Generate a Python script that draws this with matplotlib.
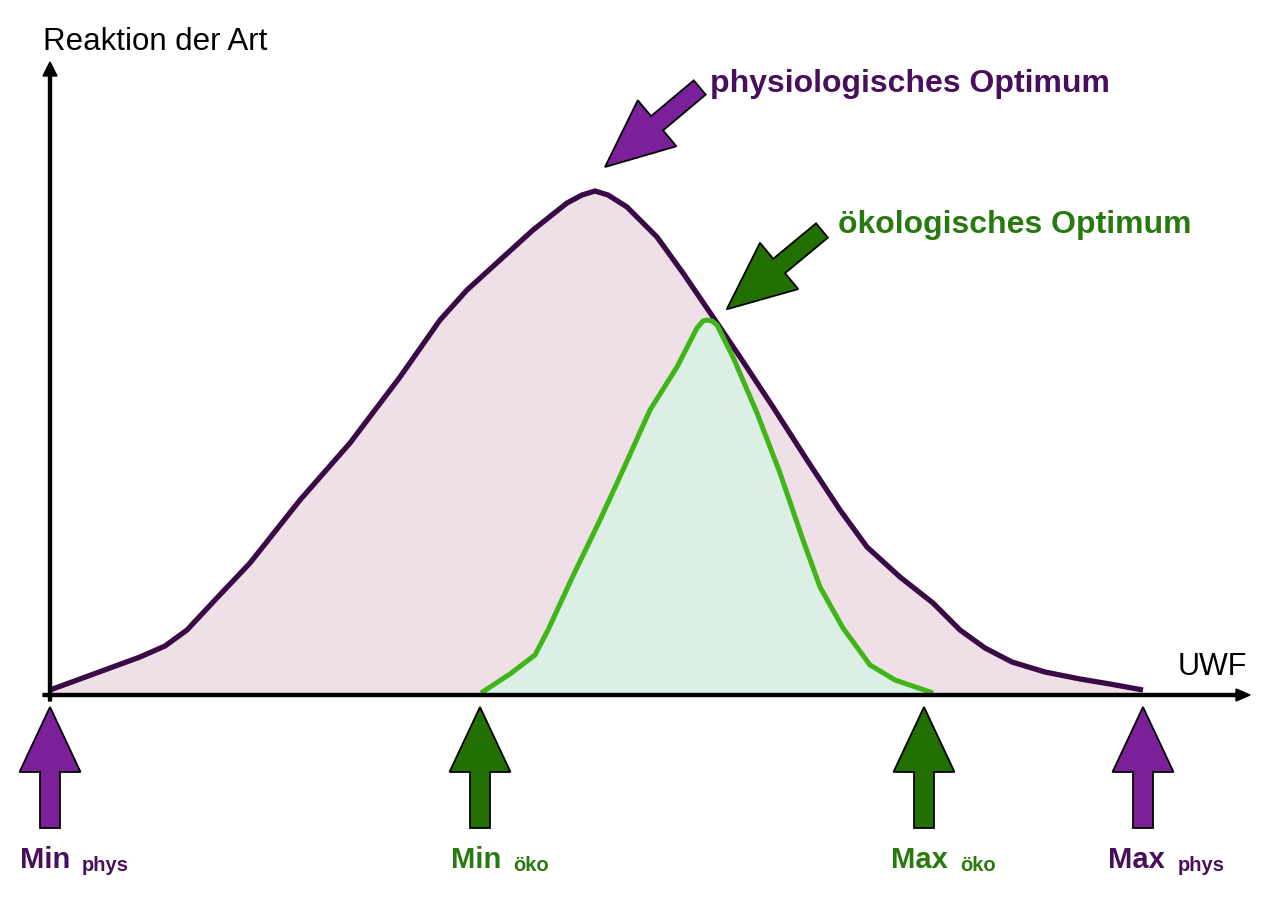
import matplotlib
matplotlib.use("Agg")
import matplotlib.pyplot as plt
from matplotlib import font_manager

# Kurven (x = UWF, y = Reaktion)
phys_x = [0, 30, 60, 90, 115, 137, 165, 200, 250, 300, 350, 390, 417, 450,
          483, 517, 532, 545, 558, 577, 607, 633, 663, 690, 723, 757, 790,
          817, 850, 883, 910, 935, 962, 995, 1030, 1060, 1093]
phys_y = [5, 16, 27, 38, 49, 65, 95, 132, 195, 252, 318, 375, 405, 435,
          465, 492, 500, 504, 500, 488, 458, 422, 378, 338, 288, 235, 185,
          148, 118, 92, 65, 47, 33, 23, 16, 11, 5]

oeko_x = [431, 460, 485, 498, 522, 550, 573, 600, 627, 647, 653, 657, 662,
          667, 683, 707, 730, 753, 770, 793, 820, 845, 883]
oeko_y = [2, 21, 40, 65, 117, 175, 225, 285, 328, 367, 374, 375, 374,
          370, 338, 282, 222, 155, 108, 67, 30, 15, 2]

# Grenzen (Min/Max) auf der UWF-Achse
grenz_x = [0, 430, 874, 1093]
grenz_haupt = ["Min", "Min", "Max", "Max"]
grenz_sub = ["phys", "öko", "öko", "phys"]
grenz_art = ["phys", "oeko", "oeko", "phys"]

# Optima
opt_text = ["physiologisches Optimum", "ökologisches Optimum"]
opt_art = ["phys", "oeko"]

# Farben
LILA_LINIE = "#3a0a47"
LILA_FLAECHE = "#efdfe6"
LILA_PFEIL = "#7b2099"
LILA_TEXT = "#4a0f5c"
GRUEN_LINIE = "#40b518"
GRUEN_FLAECHE = "#dcefe5"
GRUEN_PFEIL = "#217000"
GRUEN_TEXT = "#28790f"

pfeil_farbe = {"phys": LILA_PFEIL, "oeko": GRUEN_PFEIL}
text_farbe = {"phys": LILA_TEXT, "oeko": GRUEN_TEXT}

# Schmale fette Schrift, falls vorhanden
namen = {f.name for f in font_manager.fontManager.ttflist}
if "Liberation Sans Narrow" in namen:
    FETT = "Liberation Sans Narrow"
    f_opt, f_haupt, f_sub = 28, 25, 17
else:
    FETT = "Liberation Sans"
    f_opt, f_haupt, f_sub = 23, 21, 14.5

fig = plt.figure(figsize=(12.8, 9.01), dpi=100)
ax = fig.add_axes([0, 0, 1, 1])
ax.set_xlim(-50, 1230)
ax.set_ylim(-206, 695)
ax.axis("off")

# Flaechen und Kurven
ax.fill_between(phys_x, phys_y, 0, color=LILA_FLAECHE, lw=0, zorder=1)
ax.fill_between(oeko_x, oeko_y, 0, color=GRUEN_FLAECHE, lw=0, zorder=2)
ax.plot(phys_x, phys_y, color=LILA_LINIE, lw=3.8, solid_joinstyle="round",
        solid_capstyle="butt", zorder=4)
ax.plot(oeko_x, oeko_y, color=GRUEN_LINIE, lw=3.6, solid_joinstyle="round",
        solid_capstyle="butt", zorder=5)

# Achsen
ax.arrow(-7, 0, 1207, 0, width=3, head_width=12, head_length=14,
         length_includes_head=True, color="black", zorder=6)
ax.arrow(0, -6, 0, 639, width=3, head_width=14, head_length=14,
         length_includes_head=True, color="black", zorder=6)
ax.text(-7, 645, "Reaktion der Art", fontsize=22.5, family="Liberation Sans",
        va="baseline", ha="left")
ax.text(1128, 20, "UWF", fontsize=22, family="Liberation Sans",
        va="baseline", ha="left")

# Pfeile unter der Achse
for x, art in zip(grenz_x, grenz_art):
    ax.arrow(x, -133, 0, 121, width=20, head_width=61, head_length=65,
             length_includes_head=True, fc=pfeil_farbe[art], ec="black",
             lw=1.3, zorder=6)

haupt_links = [-30, 401, 841, 1058]
sub_links = [32, 463, 910, 1128]
for i in range(len(grenz_x)):
    farbe = text_farbe[grenz_art[i]]
    ax.text(haupt_links[i], -173, grenz_haupt[i], fontsize=f_haupt,
            family=FETT, weight="bold", color=farbe, va="baseline")
    ax.text(sub_links[i], -176, grenz_sub[i], fontsize=f_sub,
            family=FETT, weight="bold", color=farbe, va="baseline")

# Pfeile zu den Optima
pfeil_start = [(649.7, 607.5), (772, 464.5)]
pfeil_d = [(-94.7, -79.5), (-95.3, -78.8)]
text_pos = [(660, 603), (788, 462)]
for (sx, sy), (dx, dy), (tx, ty), t, art in zip(pfeil_start, pfeil_d,
                                                text_pos, opt_text, opt_art):
    ax.arrow(sx, sy, dx, dy, width=18.6, head_width=60, head_length=68,
             length_includes_head=True, fc=pfeil_farbe[art], ec="black",
             lw=1.3, zorder=6)
    ax.text(tx, ty, t, fontsize=f_opt, family=FETT, weight="bold",
            color=text_farbe[art], va="baseline", ha="left")

fig.savefig("out.png", dpi=100)
